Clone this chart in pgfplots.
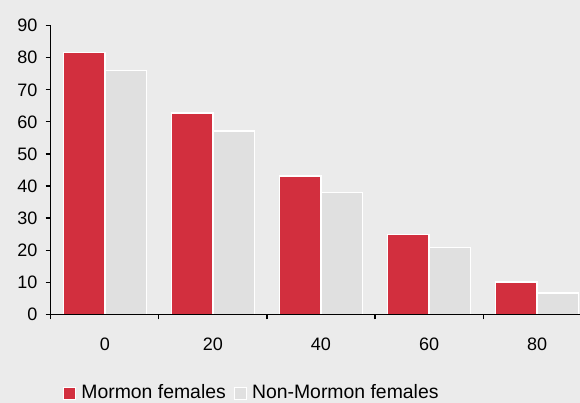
\documentclass[border=0pt]{standalone}
\usepackage{pgfplots}
\pgfplotsset{compat=1.18}
\usepackage{fontspec}
\setmainfont{Liberation Sans}
\definecolor{bg}{HTML}{EBEBEB}
\definecolor{mred}{HTML}{D22F3E}
\definecolor{mgray}{HTML}{E0E0E0}
\begin{document}
\fontsize{18bp}{21bp}\selectfont
\begin{tikzpicture}
\path[use as bounding box, fill=bg] (0,0) rectangle (580bp,403bp);
\begin{axis}[
  at={(50.7bp,88.7bp)}, anchor=south west,
  scale only axis, width=529.3bp, height=288.6bp,
  xmin=-0.5, xmax=4.396, ymin=0, ymax=90,
  axis x line*=bottom, axis y line*=left,
  axis line style={line width=1.3bp, black},
  every tick/.style={black, line width=1.2bp},
  tick align=outside,
  ytick={0,10,...,90},
  xtick={0,1,2,3,4}, xticklabels={0,20,40,60,80},
  major x tick style={draw=none},
  minor xtick={-0.5,0.5,1.5,2.5,3.5},
  minor tick length=5bp, major tick length=5bp,
  xticklabel style={yshift=-12bp},
  yticklabel style={xshift=-2bp},
  /pgf/number format/assume math mode=true,
  ticklabel style={font=\fontsize{18bp}{21bp}\selectfont},
  ybar, bar width=41.5bp,
  axis on top,
  clip=false,
  legend columns=2,
  legend style={at={(axis description cs:0.0232,-0.2735)}, anchor=west,
    draw=none, fill=none, inner sep=0pt, font=\fontsize{19.4bp}{22bp}\selectfont,
    nodes={inner sep=1bp},
    /tikz/every odd column/.append style={column sep=4bp},
    /tikz/every even column/.append style={column sep=7bp}},
  legend image code/.code={\draw[#1, line width=1.2bp] (0bp,-6bp) rectangle (12bp,6bp);},
]
\addplot[fill=mred, draw=white, line width=1.5bp, bar shift=-20.75bp] coordinates {(0,81.7) (1,62.7) (2,43.2) (3,24.9) (4,10.0)};
\addplot[fill=mgray, draw=white, line width=1.5bp, bar shift=20.75bp] coordinates {(0,76.0) (1,57.1) (2,38.0) (3,20.9) (4,6.7)};
\legend{Mormon females, Non-Mormon females}
\end{axis}
\end{tikzpicture}
\end{document}
